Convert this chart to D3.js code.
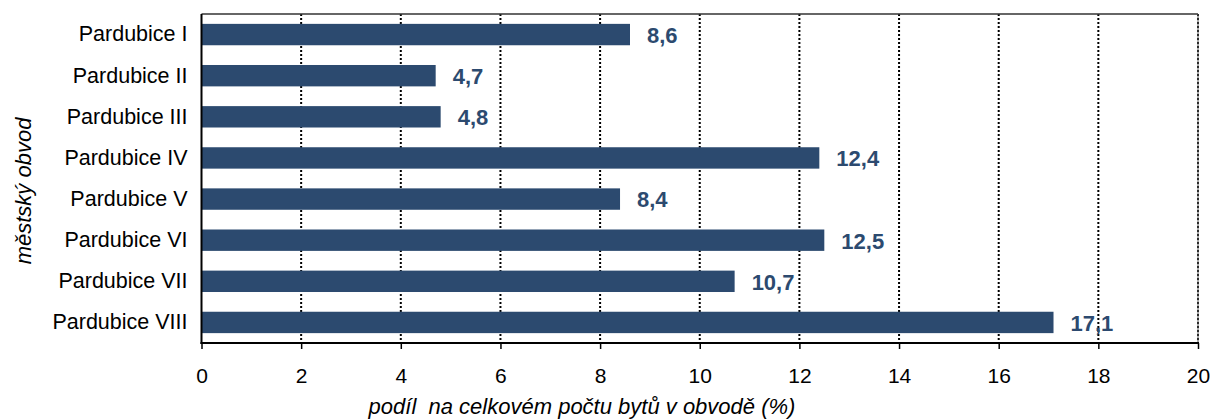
<!DOCTYPE html>
<html><head><meta charset="utf-8">
<script src="https://cdn.jsdelivr.net/npm/d3@7"></script>
<style>body{margin:0;background:#fff}svg{display:block;font-family:"Liberation Sans",Arial,sans-serif}</style>
</head><body><svg id="c" width="1214" height="420"></svg>
<script>
const categories=["Pardubice I","Pardubice II","Pardubice III","Pardubice IV","Pardubice V","Pardubice VI","Pardubice VII","Pardubice VIII"];
const values=[8.6,4.7,4.8,12.4,8.4,12.5,10.7,17.1];
const xTicks=[0,2,4,6,8,10,12,14,16,18,20];
const xTitle="podíl  na celkovém počtu bytů v obvodě (%)";
const yTitle="městský obvod";
const svg=d3.select("#c");
const m={l:201.5,r:1198,t:14,b:343};
const x=d3.scaleLinear().domain([0,20]).range([m.l,m.r]);
const y=d3.scaleBand().domain(categories).range([m.t,m.b]).paddingInner(0.48).paddingOuter(0.24);
const col="#2c4a6f";
const FF="Liberation Sans, Arial, sans-serif";
// gridlines
svg.append("g").selectAll("line").data(xTicks.filter(d=>d>0)).join("line")
 .attr("x1",d=>x(d)).attr("x2",d=>x(d)).attr("y1",m.t).attr("y2",m.b)
 .attr("stroke","#000").attr("stroke-width",2).attr("stroke-dasharray","2,2");
// top / right border
svg.append("line").attr("x1",m.l).attr("x2",m.r).attr("y1",m.t).attr("y2",m.t).attr("stroke","#333").attr("stroke-width",1.5);
svg.append("line").attr("x1",m.r).attr("x2",m.r).attr("y1",m.t).attr("y2",m.b).attr("stroke","#555").attr("stroke-width",1);
// bars
svg.append("g").selectAll("rect").data(values).join("rect")
 .attr("x",x(0)).attr("y",(d,i)=>y(categories[i])).attr("width",d=>x(d)-x(0)).attr("height",y.bandwidth()).attr("fill",col);
// value labels
svg.append("g").selectAll("text").data(values).join("text")
 .attr("x",d=>x(d)+17).attr("y",(d,i)=>y(categories[i])+y.bandwidth()/2).attr("dy","0.38em")
 .attr("fill",col).attr("font-weight","bold").attr("font-size",22).attr("font-family",FF)
 .text(d=>d.toFixed(1).replace(".",","));
// x axis
const xa=svg.append("g").attr("transform",`translate(0,${m.b})`)
 .call(d3.axisBottom(x).tickValues(xTicks).tickSize(6).tickPadding(19).tickFormat(d=>d));
xa.select(".domain").attr("stroke-width",2).attr("d",`M${m.l-1},0H${m.r+1}`);
xa.selectAll(".tick line").attr("stroke-width",1.5);
xa.selectAll("text").attr("font-size",21).attr("font-family",FF).attr("fill","#000");
// y axis
const ya=svg.append("g").attr("transform",`translate(${m.l},0)`)
 .call(d3.axisLeft(y).tickSize(0).tickPadding(14));
ya.select(".domain").attr("stroke-width",2).attr("d",`M0,${m.t}V${m.b+1}`);
ya.selectAll("text").attr("font-size",21.5).attr("font-family",FF).attr("fill","#000");
// titles
svg.append("text").attr("x",582).attr("y",414).attr("text-anchor","middle").attr("font-style","italic")
 .attr("font-size",22).attr("font-family",FF).style("white-space","pre").text(xTitle);
svg.append("text").attr("transform","translate(31,191) rotate(-90)").attr("text-anchor","middle").attr("font-style","italic")
 .attr("font-size",22).attr("font-family",FF).text(yTitle);
</script></body></html>
